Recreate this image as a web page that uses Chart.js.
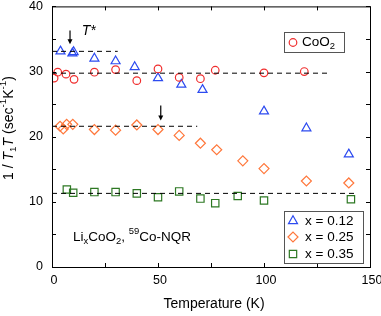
<!DOCTYPE html>
<html>
<head>
<meta charset="utf-8">
<script src="https://cdn.jsdelivr.net/npm/chart.js@4/dist/chart.umd.min.js"></script>
<style>
  html, body { margin: 0; padding: 0; background: #fff; }
  #wrap { width: 381px; height: 316px; }
</style>
</head>
<body>
<div id="wrap"><canvas id="nqrChart" width="381" height="316"></canvas></div>
<script>
/* Data */
var tempCoO2 = [1, 2.7, 6.6, 10.4, 20, 30, 40, 50, 60, 70, 77, 100, 119];
var rateCoO2 = [29.0, 29.9, 29.6, 28.8, 29.9, 30.3, 28.6, 30.4, 29.1, 28.9, 30.2, 29.8, 30.0];

var temp012 = [4, 9.6, 10.2, 20, 30, 39, 50, 61, 71, 100, 120, 140];
var rate012 = [33.1, 32.8, 33.0, 32.0, 31.6, 30.7, 29.0, 28.0, 27.2, 23.9, 21.3, 17.3];

var temp025 = [3.8, 5.3, 6.9, 9.8, 20, 30, 40, 50, 60, 70, 77.7, 90, 100, 120, 140];
var rate025 = [21.6, 21.2, 21.9, 21.9, 21.1, 21.0, 21.8, 21.1, 20.2, 19.0, 18.0, 16.3, 15.1, 13.2, 12.9];

var temp035 = [7, 10, 20, 30, 40, 50, 60, 70, 77, 87.6, 100, 141];
var rate035 = [11.9, 11.4, 11.5, 11.5, 11.3, 10.7, 11.6, 10.5, 9.8, 10.9, 10.2, 10.4];

/* Dashed guide lines: [Tstart, Tend, level] */
var guide012 = [0, 31, 33.1];
var guideCoO2 = [0, 130, 29.75];
var guide025 = [0, 68.5, 21.6];
var guide035 = [0, 144, 11.3];

/* T* arrows: [T, top, tip] */
var arrowsTstar = [[8.5, 36.3, 34.2], [51.3, 24.8, 22.5]];

var xTicks = [0, 50, 100, 150];
var yTicks = [0, 10, 20, 30, 40];

/* Colors */
var red = 'rgb(240, 45, 45)';
var blue = 'rgb(45, 75, 240)';
var orange = 'rgb(255, 120, 60)';
var green = 'rgb(45, 120, 35)';
var FONT = '"Liberation Sans", Arial, sans-serif';

function toPoints(xs, ys) {
    return xs.map(function(x, i) { return { x: x, y: ys[i] }; });
}

function guideLine(g) {
    return {
        type: 'line',
        data: [{ x: g[0], y: g[2] }, { x: g[1], y: g[2] }],
        borderColor: '#000',
        borderWidth: 1,
        borderDash: [5, 4],
        pointRadius: 0,
        fill: false
    };
}

function markers(label, xs, ys, color, style, radius) {
    return {
        label: label,
        data: toPoints(xs, ys),
        showLine: false,
        pointStyle: style,
        pointRadius: radius,
        pointBorderColor: color,
        pointBackgroundColor: 'rgba(0,0,0,0)',
        pointBorderWidth: 1.2
    };
}

// draw a text run with sub/superscripts, parts: [text, kind] kind: n, i, sub, sup
function drawRich(ctx, parts, x, y, size) {
    var cx = x;
    parts.forEach(function(p) {
        var kind = p[1] || 'n';
        var fs = (kind == 'sub' || kind == 'sup') ? size * 0.7 : size;
        var style = (kind == 'i') ? 'italic ' : '';
        ctx.font = style + fs + 'px ' + FONT;
        var dy = kind == 'sub' ? size * 0.3 : (kind == 'sup' ? -size * 0.38 : 0);
        ctx.fillText(p[0], cx, y + dy);
        cx += ctx.measureText(p[0]).width;
    });
    return cx - x;
}

function richWidth(ctx, parts, size) {
    var w = 0;
    parts.forEach(function(p) {
        var kind = p[1] || 'n';
        var fs = (kind == 'sub' || kind == 'sup') ? size * 0.7 : size;
        ctx.font = ((kind == 'i') ? 'italic ' : '') + fs + 'px ' + FONT;
        w += ctx.measureText(p[0]).width;
    });
    return w;
}

/* Frame, inward ticks, tick labels, annotations and legends */
var decorPlugin = {
    id: 'decor',
    afterDatasetsDraw: function(chart) {
        var ctx = chart.ctx;
        var a = chart.chartArea;
        var xs = chart.scales.x, ys = chart.scales.y;
        ctx.save();
        ctx.strokeStyle = '#000';
        ctx.lineWidth = 1;
        ctx.strokeRect(a.left + 0.5, a.top + 0.5, a.right - a.left, a.bottom - a.top);

        // inward ticks on all four sides
        ctx.beginPath();
        for (var t = 0; t <= 150; t += 25) {
            var px = Math.round(xs.getPixelForValue(t)) + 0.5;
            ctx.moveTo(px, a.bottom); ctx.lineTo(px, a.bottom - 4);
            ctx.moveTo(px, a.top); ctx.lineTo(px, a.top + 4);
        }
        for (var v = 0; v <= 40; v += 5) {
            var py = Math.round(ys.getPixelForValue(v)) + 0.5;
            ctx.moveTo(a.left, py); ctx.lineTo(a.left + 4, py);
            ctx.moveTo(a.right, py); ctx.lineTo(a.right - 4, py);
        }
        ctx.stroke();

        // tick labels
        ctx.fillStyle = '#000';
        ctx.font = '12.5px ' + FONT;
        ctx.textAlign = 'right';
        ctx.textBaseline = 'middle';
        yTicks.forEach(function(v) { ctx.fillText(String(v), a.left - 9, ys.getPixelForValue(v)); });
        ctx.textAlign = 'center';
        ctx.textBaseline = 'top';
        xTicks.forEach(function(t) { ctx.fillText(String(t), xs.getPixelForValue(t) + 2, a.bottom + 7); });

        // x axis title
        ctx.font = '14px ' + FONT;
        ctx.textBaseline = 'middle';
        ctx.fillText('Temperature (K)', 214, 304);

        // arrows marking T*
        arrowsTstar.forEach(function(ar) {
            var x = xs.getPixelForValue(ar[0]);
            var y0 = ys.getPixelForValue(ar[1]);
            var y1 = ys.getPixelForValue(ar[2]);
            ctx.beginPath();
            ctx.lineWidth = 1.2;
            ctx.moveTo(x, y0); ctx.lineTo(x, y1 - 4);
            ctx.stroke();
            ctx.beginPath();
            ctx.moveTo(x - 2.5, y1 - 5); ctx.lineTo(x + 2.5, y1 - 5); ctx.lineTo(x, y1);
            ctx.closePath();
            ctx.fill();
        });

        // T* label
        ctx.textBaseline = 'middle';
        ctx.textAlign = 'left';
        drawRich(ctx, [['T', 'i'], ['*', 'i']], xs.getPixelForValue(14), ys.getPixelForValue(36.2), 14);

        // sample label
        drawRich(ctx, [['Li'], ['x', 'sub'], ['CoO'], ['2', 'sub'], [', '], ['59', 'sup'], ['Co-NQR']],
            a.left + 21, 237, 13.5);

        // y axis title (rotated)
        var yParts = [['1 / '], ['T', 'i'], ['1', 'sub'], ['T', 'i'], [' (sec'], ['-1', 'sup'], ['K'], ['-1', 'sup'], [')']];
        ctx.save();
        ctx.translate(9, 128);
        ctx.rotate(-Math.PI / 2);
        var w = richWidth(ctx, yParts, 14);
        drawRich(ctx, yParts, -w / 2, 0, 14);
        ctx.restore();

        // CoO2 legend box
        ctx.lineWidth = 1;
        ctx.strokeStyle = '#555';
        ctx.strokeRect(284.5, 32.5, 60, 20);
        ctx.strokeStyle = red;
        ctx.lineWidth = 1.2;
        ctx.beginPath();
        ctx.arc(293, 42.5, 3.8, 0, Math.PI * 2);
        ctx.stroke();
        ctx.fillStyle = '#000';
        drawRich(ctx, [['CoO'], ['2', 'sub']], 302, 42, 13.5);

        // x legend box
        ctx.lineWidth = 1;
        ctx.strokeStyle = '#555';
        ctx.strokeRect(284.5, 211.5, 79, 52);
        var entries = [
            ['x = 0.12', blue, 'triangle', 5.2, 221],
            ['x = 0.25', orange, 'rectRot', 5, 237],
            ['x = 0.35', green, 'rect', 5.2, 254]
        ];
        entries.forEach(function(e) {
            ctx.strokeStyle = e[1];
            ctx.fillStyle = 'rgba(0,0,0,0)';
            ctx.lineWidth = 1.2;
            Chart.helpers.drawPoint(ctx, { pointStyle: e[2], radius: e[3], borderWidth: 1.2 }, 293, e[4]);
            ctx.fillStyle = '#000';
            ctx.font = '13.5px ' + FONT;
            ctx.fillText(e[0], 305, e[4]);
        });
        ctx.restore();
    }
};

document.addEventListener("DOMContentLoaded", function() {
    var ctx = document.getElementById('nqrChart');
    Chart.defaults.font.family = FONT;
    Chart.defaults.color = '#000';

    new Chart(ctx, {
        type: 'scatter',
        data: {
            datasets: [
                guideLine(guide012),
                guideLine(guideCoO2),
                guideLine(guide025),
                guideLine(guide035),
                markers('CoO2', tempCoO2, rateCoO2, red, 'circle', 3.8),
                markers('x = 0.12', temp012, rate012, blue, 'triangle', 5.2),
                markers('x = 0.25', temp025, rate025, orange, 'rectRot', 5),
                markers('x = 0.35', temp035, rate035, green, 'rect', 5.2)
            ]
        },
        options: {
            responsive: false,
            animation: false,
            layout: { padding: { top: 5, right: 11, left: 0, bottom: 0 } },
            plugins: {
                legend: { display: false },
                tooltip: { enabled: false }
            },
            scales: {
                x: {
                    type: 'linear',
                    min: 0, max: 150,
                    grid: { display: false },
                    border: { display: false },
                    ticks: { display: false },
                    afterFit: function(s) { s.height = 49; }
                },
                y: {
                    min: 0, max: 40,
                    grid: { display: false },
                    border: { display: false },
                    ticks: { display: false },
                    afterFit: function(s) { s.width = 52; }
                }
            }
        },
        plugins: [decorPlugin]
    });
});
</script>
</body>
</html>
